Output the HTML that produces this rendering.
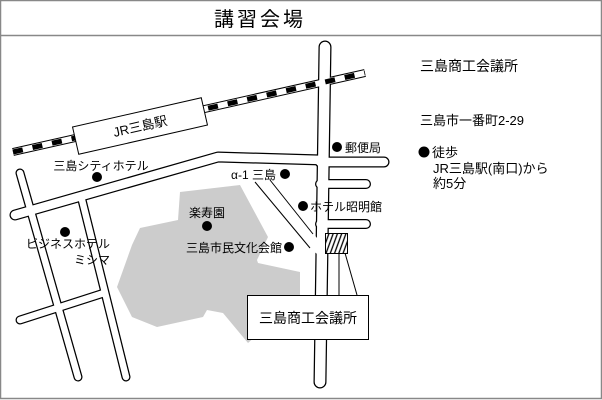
<!DOCTYPE html>
<html><head><meta charset="utf-8"><style>
html,body{margin:0;padding:0;background:#fff}
svg{display:block}
text{font-family:"Liberation Sans","Noto Sans CJK JP",sans-serif;fill:#000}
</style></head><body>
<svg width="602" height="400" viewBox="0 0 602 400" xmlns="http://www.w3.org/2000/svg">
<rect x="0.5" y="0.5" width="601" height="398" fill="#fff" stroke="#888" stroke-width="1.5"/>
<line x1="0" y1="35.5" x2="602" y2="35.5" stroke="#888" stroke-width="1.5"/>
<text x="260" y="26" font-size="20" text-anchor="middle" letter-spacing="3">講習会場</text>

<!-- park -->
<polygon fill="#cccccc" points="180,192 240,185 268,237 257,260 258,263 300,272 300,297 248,343 223,313 207,310 203,317 157,327 132,317 117,287 132,245 140,228 178,220"/>

<!-- roads black outlines -->
<g stroke="#000" fill="none" stroke-linecap="round" stroke-linejoin="round">
<polyline points="325,47 320,382" stroke-width="13"/>
<polyline points="320,162 384,162" stroke-width="11"/>
<polyline points="320,184 366,184" stroke-width="10"/>
<polyline points="320,224 366,224" stroke-width="10"/>
<polyline points="15,215 218,157 322,160" stroke-width="11"/>
<polyline points="20,173 78,377" stroke-width="9"/>
<polyline points="82,200 126,377" stroke-width="9"/>
<polyline points="20,320 104,293" stroke-width="9"/>
<polyline points="13,152 365,73" stroke-width="8" stroke-linecap="butt"/>
</g>
<g stroke="#fff" fill="none" stroke-linecap="round" stroke-linejoin="round">
<polyline points="325,47 320,382" stroke-width="10.5"/>
<polyline points="320,162 384,162" stroke-width="8.5"/>
<polyline points="320,184 366,184" stroke-width="7.5"/>
<polyline points="320,224 366,224" stroke-width="7.5"/>
<polyline points="15,215 218,157 322,160" stroke-width="8.5"/>
<polyline points="20,173 78,377" stroke-width="6.5"/>
<polyline points="82,200 126,377" stroke-width="6.5"/>
<polyline points="20,320 104,293" stroke-width="6.5"/>
<polyline points="13,152 365,73" stroke-width="6" stroke-linecap="butt"/>
</g>
<!-- diagonal road (open ended) -->
<polygon points="255,182 270,180 317,238 317,254 310,248" fill="#fff"/>
<line x1="255" y1="182" x2="310" y2="248" stroke="#000"/>
<line x1="270" y1="180" x2="313" y2="234" stroke="#000"/>
<line x1="13" y1="152" x2="365" y2="73" stroke="#000" stroke-width="5" stroke-dasharray="10,10"/>

<!-- station -->
<g transform="translate(140,126) rotate(-12.8)">
<rect x="-66" y="-14" width="132" height="28" fill="#fff" stroke="#000" stroke-width="1"/>
<text x="0" y="5" font-size="13" text-anchor="middle">JR三島駅</text>
</g>

<!-- hatched building -->
<defs><pattern id="h" width="4" height="4" patternUnits="userSpaceOnUse" patternTransform="rotate(20)"><rect width="4" height="4" fill="#fff"/><line x1="1" y1="0" x2="1" y2="4" stroke="#000" stroke-width="1.3"/></pattern></defs>
<rect x="325.5" y="233.5" width="22" height="20" fill="url(#h)" stroke="#000"/>
<line x1="339" y1="253" x2="339" y2="295" stroke="#000"/>
<line x1="345" y1="253" x2="357" y2="295" stroke="#000"/>
<rect x="247.5" y="295.5" width="121" height="44" fill="#fff" stroke="#000"/>
<text x="308" y="323" font-size="14" text-anchor="middle">三島商工会議所</text>

<!-- dots -->
<g fill="#000">
<circle cx="337" cy="147" r="5"/>
<circle cx="285" cy="174" r="5"/>
<circle cx="303" cy="206" r="5"/>
<circle cx="289" cy="247" r="5"/>
<circle cx="207" cy="226" r="5"/>
<circle cx="97" cy="177" r="5"/>
<circle cx="65" cy="232" r="5"/>
</g>
<g font-size="12">
<text x="345" y="152">郵便局</text>
<text x="276" y="179" text-anchor="end">α-1 三島</text>
<text x="310" y="211">ホテル昭明館</text>
<text x="282" y="252" text-anchor="end">三島市民文化会館</text>
<text x="207" y="217" text-anchor="middle">楽寿園</text>
<text x="101" y="170" text-anchor="middle">三島シティホテル</text>
<text x="110" y="248" text-anchor="end">ビジネスホテル</text>
<text x="110" y="264" text-anchor="end">ミシマ</text>
</g>

<!-- right info -->
<text x="420" y="71" font-size="14">三島商工会議所</text>
<text x="420" y="125" font-size="13">三島市一番町2-29</text>
<circle cx="424" cy="152" r="5.5" fill="#000"/>
<text x="432" y="157" font-size="13">徒歩</text>
<text x="433" y="173" font-size="13">JR三島駅(南口)から</text>
<text x="433" y="188" font-size="13">約5分</text>
</svg>
</body></html>
